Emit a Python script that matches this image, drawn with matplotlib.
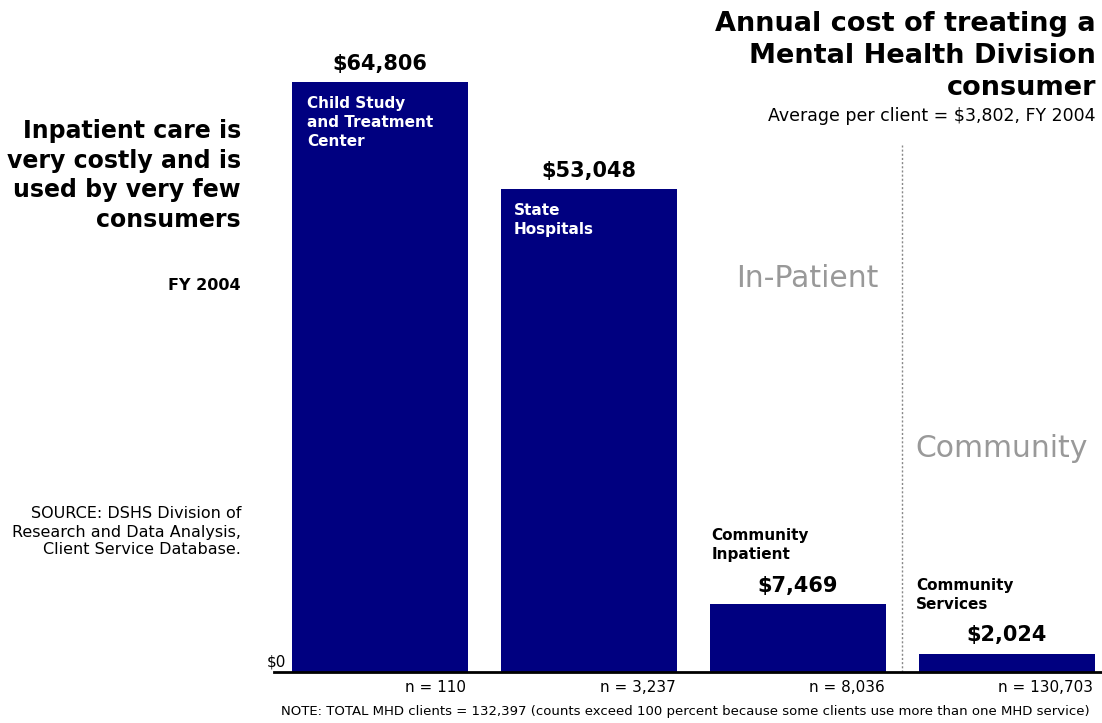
import numpy as np
import matplotlib.pyplot as plt

# annual cost per consumer, FY 2004
services = ["Child Study\nand Treatment\nCenter", "State\nHospitals",
            "Community\nInpatient", "Community\nServices"]
costs = [64806, 53048, 7469, 2024]
clients = [110, 3237, 8036, 130703]
cost_labels = ["$64,806", "$53,048", "$7,469", "$2,024"]
client_labels = ["n = 110", "n = 3,237", "n = 8,036", "n = 130,703"]

W, H = 1102, 723
plt.rcParams['font.family'] = 'DejaVu Sans'

fig = plt.figure(figsize=(W / 100, H / 100), dpi=100)

def fx(x):
    return x / W

def fy(y):
    return 1 - y / H

# axes: baseline at y=672 px, left edge at x=274 px
ax = fig.add_axes([fx(274), fy(672), 1 - fx(274), (672 - 60) / H])
x = np.arange(len(costs))
width = 0.84
ax.bar(x, costs, width=width, color="#000080", zorder=2)
ax.set_xlim(-0.507, 3.455)
ax.set_ylim(0, 64806 * 612 / 590)

for s in ["top", "right", "left"]:
    ax.spines[s].set_visible(False)
ax.spines["bottom"].set_linewidth(2)
ax.set_xticks([])
ax.set_yticks([])

# in-patient / community divider
ax.axvline(2.5, ymin=0, ymax=(672 - 145) / 612, color="#888888",
           linestyle=(0, (1.5, 1.5)), linewidth=1)

# cost labels above bars
for i, (c, lab) in enumerate(zip(costs, cost_labels)):
    ax.annotate(lab, (i, c), xytext=(0, 6), textcoords="offset points",
                ha="center", va="bottom", fontsize=15, fontweight="bold")

# service names
ax.annotate(services[0], (0 - width / 2, costs[0]), xytext=(11, -10),
            textcoords="offset points", ha="left", va="top", color="white",
            fontsize=11, fontweight="bold", linespacing=1.35)
ax.annotate(services[1], (1 - width / 2, costs[1]), xytext=(9, -10),
            textcoords="offset points", ha="left", va="top", color="white",
            fontsize=11, fontweight="bold", linespacing=1.35)
ax.annotate(services[2], (2 - width / 2, costs[2]), xytext=(1, 30),
            textcoords="offset points", ha="left", va="bottom", color="black",
            fontsize=11, fontweight="bold", linespacing=1.35)
ax.annotate(services[3], (3 - width / 2, costs[3]), xytext=(-2, 30),
            textcoords="offset points", ha="left", va="bottom", color="black",
            fontsize=11, fontweight="bold", linespacing=1.35)

# client counts under bars
for i, lab in enumerate(client_labels):
    ax.annotate(lab, (i + width / 2, 0), xytext=(-1, -6),
                textcoords="offset points", ha="right", va="top",
                fontsize=11)

fig.text(fx(286), fy(662), "$0", ha="right", va="center", fontsize=11)

# section captions
ax.text(2.043, (672 - 279) / 612, "In-Patient", transform=ax.get_xaxis_transform(),
        ha="center", va="center", fontsize=21.5, color="#999999")
ax.text(2.976, (672 - 448) / 612, "Community", transform=ax.get_xaxis_transform(),
        ha="center", va="center", fontsize=21.5, color="#999999")

# titles and side notes
fig.text(fx(1096), fy(11), "Annual cost of treating a\nMental Health Division\nconsumer",
         ha="right", va="top", fontsize=19.5, fontweight="bold", linespacing=1.3)
fig.text(fx(1096), fy(116), "Average per client = $3,802, FY 2004",
         ha="right", va="center", fontsize=12.5)
fig.text(fx(241), fy(119), "Inpatient care is\nvery costly and is\nused by very few\nconsumers",
         ha="right", va="top", fontsize=17, fontweight="bold", linespacing=1.3)
fig.text(fx(241), fy(286), "FY 2004", ha="right", va="center",
         fontsize=11.5, fontweight="bold")
fig.text(fx(241), fy(532), "SOURCE: DSHS Division of\nResearch and Data Analysis,\nClient Service Database.",
         ha="right", va="center", fontsize=11.5, linespacing=1.25)
fig.text(fx(1090), fy(712), "NOTE: TOTAL MHD clients = 132,397 (counts exceed 100 percent because some clients use more than one MHD service)",
         ha="right", va="center", fontsize=9.5)

fig.savefig("out.png", dpi=100)
